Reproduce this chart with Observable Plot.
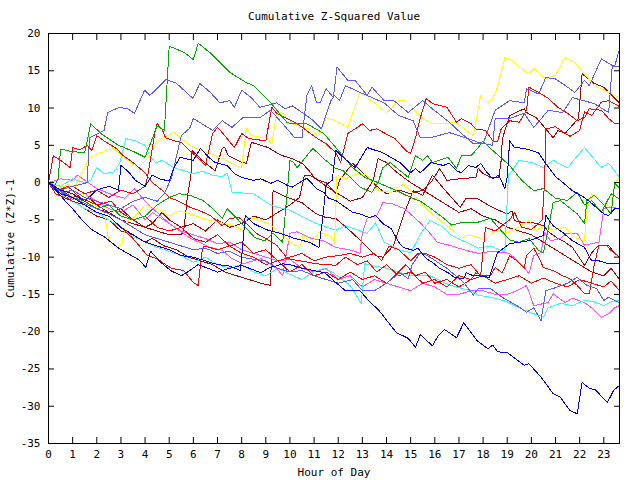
<!DOCTYPE html>
<html>
<head>
<meta charset="utf-8">
<script src="https://cdn.jsdelivr.net/npm/d3@7"></script>
<script src="https://cdn.jsdelivr.net/npm/@observablehq/plot@0.6"></script>
<style>
  html, body { margin: 0; padding: 0; background: #fff; }
</style>
</head>
<body>
<div id="chart"></div>
<script>
// ---- data: [hour, cumulative (Z*Z)-1] ----
const hours = d3.range(0, 24);
const yTicks = d3.range(-35, 21, 5);

const g1 = [[0,0],[0.2,-0.8],[0.4,0.5],[0.5,4.5],[0.9,4.2],[1.5,4],[1.75,7.9],[2.2,6.5],[2.9,5],[3.5,4.2],[4,3.4],[4.5,7.6],[4.8,7],[5,18.3],[5.6,17.5],[6,16.5],[6.2,18.7],[6.7,17.4],[7.5,14.8],[8.2,13.4],[8.5,13],[9.2,10.7],[9.9,8],[10.7,7.9],[11.4,6.6],[11.9,4.7],[12.6,2],[13.1,0.7],[13.5,0.2],[14,-0.5],[14.5,-1.2],[15,-2],[15.4,-2.5],[15.85,-3.5],[16.3,-4.6],[16.7,-5.7],[17.2,-5.3],[17.7,-5.4],[18.3,-4.8],[19.1,-7.7],[19.5,-8],[19.9,-7.5],[20.3,-9.1],[20.5,-9.4],[20.75,-5.4],[20.9,-2.7],[21.2,-2.4],[21.9,-4.2],[22.2,-5.5],[22.3,-2.4],[22.6,-1.7],[23,-3],[23.3,-4.2],[23.45,-0.1],[23.65,-0.7]];
const g2 = [[0,0],[0.4,-1],[1,-2],[1.5,-2.5],[2,-3.5],[2.5,-3],[3,-4.5],[3.5,-5],[4,-4.5],[4.5,-3],[5,-2],[5.4,-1.5],[5.85,-1.7],[6.4,-2.4],[6.8,-3.5],[7.2,-4.8],[7.4,-3.5],[8.1,-5.8],[8.55,-7.4],[8.96,-7.8],[9.3,-6.8],[9.7,-8],[9.8,-4.4],[9.9,-0.8],[10,3],[10.15,2.7],[10.3,2],[10.95,4.6],[11.4,3.2],[11.9,1.9],[12.2,1.6],[12.5,0.7],[12.9,-0.6],[13.4,-1.3],[13.65,0],[13.85,2],[14.15,2.7],[14.9,0.7],[15.2,3.6],[15.5,3],[15.7,3.6],[15.9,2.7],[16.55,3.4],[16.9,1.9],[17.1,3.6],[17.5,3.6],[17.8,4.7],[18,5.6],[18.3,4.6],[19.1,2.3],[19.6,0.3],[20.1,-1.1],[20.5,-0.8],[21,-2.1],[21.5,-2.4],[21.9,-1.3],[22.2,-3],[22.5,-2.4],[22.9,-4],[23.3,-1.5],[23.65,-2.2]];
const lb1 = [[0,0],[0.5,-1],[1,-0.5],[1.6,0],[1.7,6],[2.3,7],[2.45,9.4],[2.93,10.1],[3.28,9.9],[3.56,9.3],[3.98,12.4],[4.2,11.7],[4.86,13.8],[5.27,13.4],[5.98,11.3],[6.27,13.3],[6.7,12.1],[7.1,10.7],[7.5,11],[7.7,10.1],[8,12.4],[8.4,11.4],[8.75,10.1],[9,10.3],[9.45,10.7],[9.8,9.9],[10.1,10.3],[10.5,9.4],[10.9,8.5],[11.3,7.2],[11.7,11],[11.85,11.7],[12.05,11],[12.3,13],[12.9,12.1],[13.9,10.7],[14.5,9],[15.1,8.3],[15.4,6],[15.8,6],[16.6,6.7],[17,6.3],[17.3,6],[17.8,5.4],[18.4,5],[18.5,8.6],[19.1,8.6],[19.7,9.3],[20.1,7.4],[20.7,9.7],[21.3,9.4],[21.7,11.4],[22.6,10.6],[23.2,9.4],[23.35,15.6],[23.65,15.6]];
const lb2 = [[0,0],[0.5,-1.5],[1,-1],[1.5,-2],[2,-2.5],[2.5,-3],[3,-3.5],[3.5,-2.5],[4,-2],[4.5,-2.5],[4.8,-1.5],[5.1,0.7],[5.5,6.3],[5.85,7.3],[6,8.6],[6.8,7],[7.2,8.3],[7.6,7.4],[8.05,8.7],[8.75,8.7],[9.2,9.7],[9.7,7.9],[10.2,6],[10.5,6],[10.7,11.7],[10.9,13],[11.1,10.7],[11.25,10.7],[11.5,12.6],[11.8,11.4],[11.95,15.5],[12.4,13.7],[12.7,13.7],[13.2,11.7],[13.4,12.8],[13.9,11],[14.3,11],[14.9,9.4],[15.5,11],[15.9,9.9],[16.6,8.1],[17.1,6.6],[17.6,5.2],[18,5.2],[18.5,9.7],[19.1,11],[19.7,10.7],[19.8,12.6],[20.3,11.9],[20.6,14.1],[21,13.9],[21.5,12.8],[21.8,12.1],[22.2,13.7],[22.4,13],[22.9,16.6],[23.3,15.8],[23.45,15.6],[23.65,17.9]];
const lb3 = [[0,0],[0.5,-1.2],[1,-2],[1.5,-2.8],[2,-3.5],[2.5,-4.2],[3,-5],[3.5,-6],[4,-7],[4.5,-7.5],[5,-8],[5.5,-8.5],[6,-9],[6.5,-8.8],[7,-9.5],[7.5,-9.2],[8,-10],[8.5,-10.3],[9,-10.5],[9.5,-11.5],[10,-12],[10.5,-11.8],[11,-12.5],[11.5,-13],[12,-13.5],[12.6,-13],[13,-14.5],[13.5,-14.5],[14,-13.5],[14.55,-12.1],[14.9,-12.9],[15.05,-11.1],[15.4,-9.4],[15.7,-9.8],[16.5,-11.5],[17.2,-13.4],[17.6,-15.1],[17.8,-14.2],[18.3,-14.2],[18.8,-15.4],[19.4,-16.5],[19.8,-17.4],[20.1,-16.8],[20.4,-18.5],[20.6,-14.5],[21,-14.1],[21.5,-13.5],[21.9,-12.7],[22.3,-13.8],[22.7,-14.2],[23,-15.8],[23.2,-15.4],[23.65,-16.1]];
const y1 = [[0,0],[0.4,-0.8],[0.8,-0.3],[1.1,-0.5],[1.3,0.7],[1.7,3.4],[2.4,4.3],[2.7,4.6],[3.2,3.2],[3.7,1.9],[4.1,3.2],[4.5,5.6],[5.2,6.7],[5.5,5.9],[6,4.7],[6.7,3.9],[7.2,3.2],[8,2],[8.2,7.4],[8.4,6.3],[9,6],[9.25,5.2],[9.45,9.4],[9.7,9.3],[10.1,7.9],[10.8,7.2],[11.2,6.3],[11.5,8.7],[11.9,8.3],[12.4,7.4],[12.9,12.1],[13.5,10.7],[14,9.3],[14.5,11],[14.8,11],[15.5,8.6],[15.9,7.9],[16.4,7.9],[16.9,8.1],[17.3,7],[17.6,6.3],[17.9,11.7],[18.2,10.7],[18.4,11.3],[18.6,12.8],[18.9,16.8],[19.2,16.4],[19.5,15.5],[19.9,14.6],[20.1,15.3],[20.6,13.9],[21,14.4],[21.4,16.8],[21.8,16.1],[22.2,14.6],[22.6,13],[23,12.4],[23.65,11.4]];
const y2 = [[0,0],[0.6,-1],[1.1,-2],[1.5,-1.5],[1.9,-3],[2.3,-4],[2.5,-7.8],[2.85,-8.7],[3.05,-8.2],[3.2,-5.3],[3.6,-4.5],[4,-3],[4.5,-3.5],[5,-4.5],[5.4,-3.8],[5.85,-4.2],[6.7,-5.1],[7.3,-5.5],[7.7,-5.8],[8.05,-6.4],[8.25,-4.7],[8.6,-4.8],[9.1,-5.5],[9.6,-6.7],[10.1,-8.2],[10.4,-8.7],[10.55,-7.1],[10.9,-8.2],[11.2,-6.7],[11.65,-7.1],[11.85,-8],[11.95,1],[12.3,0.5],[12.8,1.2],[13.2,1],[13.5,-0.4],[13.7,-1.1],[14.2,-1.3],[14.5,-0.6],[14.7,-0.2],[15.1,-1.5],[15.5,-3],[15.9,-4.2],[16.4,-5.5],[16.9,-6.8],[17.1,-7.5],[17.3,-7.1],[17.7,-7.2],[18.1,-7.8],[18.5,-6.4],[19,-6.7],[19.5,-6],[19.9,-5.1],[20.2,-6.4],[20.55,-5.8],[20.9,-6.4],[21.4,-6],[21.8,-7.4],[22.2,-7.8],[22.3,-3.5],[22.5,-1.5],[22.7,-1.8],[23,-2.7],[23.3,-3.3],[23.45,-0.1],[23.65,0.7]];
const c1 = [[0,0],[0.5,-0.5],[1,0.5],[1.5,0],[1.75,0.3],[2,2],[2.3,1.2],[2.7,1.4],[2.95,2.6],[3.2,5.9],[3.6,5.6],[4,5],[4.2,3.6],[4.45,2.6],[4.7,3],[5.2,2],[6,1.2],[6.4,1.5],[6.8,1],[7.2,0.8],[7.4,1.3],[7.6,-1.3],[8.5,-1.5],[9.25,-3.1],[10,-3.7],[10.95,-5.3],[11.9,-6.4],[12.3,-5.8],[13.2,-6.8],[13.55,-5.4],[13.9,-8],[14.6,-9.1],[15,-9.4],[15.45,-6.7],[15.8,-5.1],[16.35,-6],[16.7,-7.1],[17.3,-8],[17.8,-8.8],[18.3,-8.5],[18.9,-9.3],[19.05,1],[19.2,1.6],[19.5,3],[20.1,2.6],[20.5,2],[20.9,3],[21.3,2.3],[21.5,2],[22.2,4.7],[22.9,2],[23.2,2.6],[23.65,0.7]];
const c2 = [[0,0],[0.3,-1],[0.7,-2],[1,-2.5],[1.5,-3.5],[2,-4],[2.5,-5],[3,-6],[3.4,-7.1],[3.9,-7.8],[4.5,-8.7],[4.9,-9.1],[5.5,-9.8],[6,-10.7],[6.5,-10],[7,-11],[7.5,-11.5],[8,-11],[8.5,-12],[9,-12.5],[9.5,-11.5],[10,-12.3],[10.5,-13],[11,-12],[11.4,-11.5],[11.8,-12.1],[12.5,-13.8],[12.95,-16.2],[13.1,-10.9],[13.5,-11.2],[13.9,-11.4],[14.5,-12],[15,-12.5],[15.8,-12.5],[16.65,-13.8],[17.5,-14.5],[17.8,-15.1],[18.5,-15.5],[19,-16],[19.5,-16.8],[20,-17.5],[20.5,-18],[20.7,-16.8],[21.2,-16.2],[21.7,-16.5],[22.2,-15.8],[22.6,-16],[23,-16.5],[23.3,-16],[23.65,-15.8]];
const m1 = [[0,0],[0.5,0.5],[1,0.3],[1.2,1],[2,-0.8],[2.7,-1.7],[3.15,-2.1],[3.55,-0.8],[4,-2.5],[4.5,-4],[5,-5.5],[5.85,-7.4],[6.7,-8.7],[7.2,-9.1],[7.6,-10.2],[8.05,-10.9],[8.8,-10.2],[9.45,-11.5],[9.7,-12.5],[10,-6.8],[10.3,-6.6],[10.8,-7.4],[11.4,-7.8],[11.9,-8.7],[12.6,-9.1],[12.9,-9.5],[13,-6.8],[13.2,-4.8],[13.6,-4.4],[13.85,-2.7],[14.2,-2.8],[14.75,-3.5],[15.4,-5.4],[15.8,-6.8],[16.1,-8],[16.6,-8.4],[17.3,-9.1],[17.8,-9.5],[18.4,-9.2],[19.1,-9.5],[19.7,-11.4],[19.9,-12.2],[20.1,-9.8],[20.4,-9.4],[20.55,-6.7],[20.8,-7.8],[21.2,-7.5],[21.45,-6.8],[21.9,-6.8],[22.2,-8.4],[22.8,-8],[23,-3.5],[23.3,-3.3],[23.65,-3.5]];
const m2 = [[0,0],[0.5,-1],[1,-2.3],[1.5,-1.5],[2,-2.5],[2.5,-3.5],[3,-4],[3.5,-3],[4,-5],[4.3,-4],[5,-5.5],[5.5,-6.5],[6,-7],[6.5,-7.5],[7,-8.2],[7.5,-8],[8,-9],[8.5,-9.5],[9,-10],[9.5,-10.5],[10,-10.3],[10.5,-11.5],[11,-12],[11.5,-11.5],[12,-13],[12.5,-12.5],[13,-14],[13.5,-13],[14,-13.5],[14.5,-14],[15,-14.5],[15.5,-13.5],[16,-14],[16.5,-15],[17,-15],[17.5,-14.5],[18,-14.5],[18.5,-15],[19,-15],[19.4,-14.5],[19.8,-13.8],[20.1,-16.5],[20.7,-16.1],[20.9,-14.9],[21.4,-16.1],[21.7,-15.5],[22.2,-16.1],[22.5,-16.8],[22.9,-18.1],[23.2,-17.6],[23.45,-16.8],[23.65,-16.5]];
const r1 = [[0,0],[0.2,3.6],[0.5,3],[0.9,2],[1,4.7],[1.3,4.4],[1.6,5],[1.8,4.3],[2,6.3],[2.3,5.6],[2.8,4.6],[3.1,3.6],[3.5,2.7],[4,1.3],[4.3,0],[4.7,-1],[5,-2],[5.4,-2.5],[5.85,-3.3],[6.2,-3.7],[6.7,-4.4],[7.2,-5.8],[7.5,-4.8],[7.9,-4.7],[8.3,-5.8],[8.6,-6.8],[9,-7.5],[9.45,-8.4],[9.9,-10.2],[10.4,-10.5],[10.8,-10.7],[11.1,-10.9],[11.9,-11.1],[12.3,-10],[12.8,-11],[13.2,-10.5],[13.6,-12],[14,-11],[14.5,-12.5],[15,-12],[15.5,-13.5],[16,-13],[16.5,-14],[17,-12.5],[17.5,-13],[17.7,-12.1],[18,-12.5],[18.3,-12.5],[18.5,-11.4],[18.8,-12.1],[19.1,-9.8],[19.4,-10.5],[19.7,-11.5],[19.8,-9.8],[20.1,-8.8],[20.3,-10],[20.5,-11.4],[20.9,-11.8],[21.3,-12.5],[21.6,-12.9],[21.9,-13.8],[22.2,-14.9],[22.4,-14.9],[22.6,-11.1],[22.8,-8.4],[23.1,-8.4],[23.3,-9.1],[23.65,-10]];
const r2 = [[0,0],[0.5,-1],[1,-0.5],[1.5,-1.5],[2,-1],[2.5,-2],[3,-1],[3.5,-1.5],[4,-0.5],[4.1,0.7],[4.4,6.6],[4.5,7.9],[4.7,7.2],[4.85,6],[5.2,5.6],[5.5,5.4],[5.85,4.3],[6.3,3],[6.5,2.3],[6.8,6.6],[7,7.4],[7.2,6.7],[7.7,4.7],[8,6.6],[8.3,5.9],[9,5.6],[9.25,10.1],[9.45,9.3],[10.3,7.9],[11.1,6],[11.5,5.2],[11.9,4],[12.1,2.7],[12.4,6.6],[12.8,7.4],[13,7.9],[13.3,7],[13.6,7.2],[14.35,5.9],[14.8,4.3],[15,3.9],[15.2,6],[15.4,8.7],[15.65,11.3],[15.9,10.6],[16.5,10.1],[16.9,8.1],[17.1,8.6],[17.5,7.9],[17.7,7.2],[18.1,7],[18.4,5.6],[18.6,5.5],[18.75,7.2],[19.1,8.3],[19.5,8.1],[19.8,9.7],[19.9,12.8],[20.3,12.1],[20.7,11.3],[21.1,10.1],[21.5,9.3],[21.9,8.3],[22.2,8.7],[22.4,9.9],[22.9,9.7],[23.2,8.6],[23.45,7.9],[23.65,8]];
const r3 = [[0,0],[0.4,-1],[0.8,-0.5],[1.3,-2],[2,-3],[2.6,-2.5],[3,-4],[3.5,-5],[4,-4.5],[4.5,-6],[5,-6.5],[5.5,-6],[6,-7.5],[6.5,-8],[7,-7],[7.5,-8.5],[8,-8],[8.5,-9.5],[9,-9],[9.5,-10.5],[10,-10],[10.5,-9.5],[11,-10.5],[11.5,-10],[12,-9.8],[12.5,-9.5],[13,-10],[13.5,-9.5],[13.8,-10.5],[14.1,-8.5],[14.5,-9],[15,-10.5],[15.3,-9.5],[15.6,-9.5],[16,-10],[16.5,-11],[17,-11.5],[17.5,-11],[17.9,-12.5],[18.1,-6],[18.5,-6.5],[19.1,-5],[19.3,-4],[19.6,-6],[20,-6.3],[20.3,-5.5],[20.45,-5],[20.55,0.3],[20.6,7.2],[21,7.5],[21.3,6.8],[21.6,6.2],[22,7],[22.2,9.5],[22.5,9],[22.9,10.8],[23.2,11],[23.65,10.2]];
const r4 = [[0,0],[0.3,-1.5],[1,-2.5],[1.5,-3],[2,-4],[2.5,-4.5],[3,-6],[3.5,-7.5],[4.1,-9.8],[4.5,-10.2],[4.8,-10.9],[5.1,-11.5],[5.6,-11.8],[6,-13.4],[6.2,-13.8],[6.35,-9.4],[6.45,-8.5],[7,-9],[7.5,-8.5],[8,-9.5],[8.5,-10],[9,-11],[9.5,-10.5],[10,-12],[10.5,-11],[11,-12.5],[11.5,-12],[12,-13],[12.5,-12],[13,-13],[13.5,-12.5],[14,-13.5],[14.5,-12],[14.8,-11],[15.2,-12.5],[15.6,-12],[16,-13.5],[16.5,-13],[17,-14],[17.5,-13],[18,-12.5],[18.5,-13.5],[19,-13],[19.5,-12.5],[20,-13.5],[20.5,-12.8],[21,-13.5],[21.5,-14],[22,-13],[22.5,-13.5],[23,-14],[23.3,-13.2],[23.65,-14.5]];
const b1 = [[0,0],[0.3,-1],[0.7,-2.5],[1,-3.5],[1.33,-4.8],[1.74,-6.2],[2.37,-7.4],[2.86,-8.7],[3.28,-9.5],[3.77,-10.4],[4.03,-11.4],[4.23,-9.2],[4.65,-10.7],[5.06,-11.8],[5.5,-12.5],[5.85,-11.8],[6.2,-11],[6.6,-11.5],[7,-12],[7.5,-11.5],[8,-11.1],[8.8,-12.1],[9.1,-11.5],[9.7,-10.9],[10,-11],[10.5,-11.5],[11,-11.8],[11.45,-12.1],[11.9,-13.4],[12.3,-14.5],[12.9,-14.5],[13.25,-15.8],[13.7,-17.2],[14.4,-20.1],[14.9,-20.9],[15.2,-22.1],[15.4,-20.4],[15.9,-21.9],[16.15,-20.5],[16.4,-19.7],[16.9,-20.8],[17.2,-18.8],[17.75,-21.2],[18.2,-22.3],[18.4,-21.8],[18.6,-22.7],[19,-22.8],[19.7,-24.5],[19.9,-24.3],[20.4,-26.1],[20.9,-28.3],[21.2,-28.8],[21.6,-30.6],[21.9,-31],[22.1,-26.8],[22.4,-27.6],[22.65,-27.8],[23.15,-29.5],[23.4,-27.9],[23.65,-27.2]];
const b2 = [[0,0],[0.5,-1],[1,-1.5],[1.5,-2.5],[2,-1],[2.5,-0.5],[2.9,-1],[3,2.3],[3.3,1.5],[3.6,0.3],[4,-0.5],[4.3,1],[4.6,0.5],[5,0.2],[5.2,2],[5.45,3.4],[5.7,3.2],[6,3],[6.3,4.6],[6.6,3.5],[6.9,2.7],[7.4,2.3],[7.7,1.2],[8,0.7],[8.5,0.3],[8.8,0.5],[9.2,-0.1],[9.5,0.3],[9.9,-0.4],[10.1,-0.6],[10.4,0],[10.7,0.6],[11.1,-0.8],[11.4,-1.3],[11.6,-2.1],[11.9,-2.4],[12.2,-3.1],[12.6,-4],[12.9,-4.2],[13.3,-4.7],[13.55,-4.4],[13.85,-5.5],[14.2,-6.2],[14.5,-8],[14.7,-8.7],[15.1,-9.1],[15.3,-8.8],[15.65,-10.2],[15.9,-10.7],[16.2,-11.5],[16.55,-12.1],[16.8,-12.7],[17.2,-12.9],[17.3,-12.1],[17.6,-12.5],[17.8,-12.5],[18.25,-12.7],[18.6,-9.4],[19.1,-8.2],[19.9,-7.8],[20.5,-7.1],[20.6,-4.4],[20.9,-5.8],[21.3,-6.7],[21.7,-7.8],[22.2,-8.7],[22.5,-10.5],[22.8,-10.5],[23.2,-10.9],[23.65,-10.9]];
const b3 = [[0,0],[0.5,-1.5],[1,-2],[1.5,-3],[2,-4],[2.5,-4.5],[3,-6],[3.5,-7],[4,-8],[4.5,-8.5],[5,-9],[5.5,-9.8],[6,-10],[6.5,-10.5],[7,-11],[7.5,-11.2],[7.95,-11.8],[8.15,-4.4],[8.5,-5.5],[9,-6.3],[9.6,-6.8],[10.2,-7.5],[10.8,-8],[11.2,-8.7],[11.35,-5],[11.5,-0.3],[11.75,0.3],[11.9,4.3],[12.2,3.4],[12.7,2],[13.2,4.7],[13.85,4],[14.55,2.7],[15,1.3],[15.2,1.9],[15.4,1.3],[15.85,2.7],[16.35,2.3],[16.6,2.6],[16.9,1.6],[17.1,1.3],[17.4,2.3],[17.7,2],[17.9,2.6],[18.1,1.6],[18.4,0.5],[18.65,1],[18.9,-0.8],[19,0.7],[19.1,5.6],[19.3,4.7],[19.7,4.6],[20.3,4],[20.5,3],[21,0.8],[21.2,0.3],[21.7,-1.1],[22.2,-2],[22.5,-2.8],[23,-4.2],[23.2,-4.4],[23.45,-3.5],[23.65,-3.5]];
const dr1 = [[0,0],[0.4,-1],[1,-2],[1.5,-1.5],[2,-3],[2.5,-4],[3,-3.5],[3.5,-5],[4,-6],[4.3,-5.5],[4.7,-4],[5,-5],[5.5,-6],[6,-5.5],[6.5,-6.5],[7,-5],[7.5,-6],[8,-5.5],[8.5,-4.5],[9,-5],[9.5,-4],[10,-3],[10.4,-2],[10.6,1],[10.8,1],[11.2,0.3],[11.5,0],[11.9,-1.5],[12.05,0.3],[12.6,2.6],[12.8,2],[13.2,0.7],[13.6,-0.5],[14,-1.5],[14.5,-1],[15,-1.5],[15.5,-1],[15.9,0.3],[16.2,1.9],[16.5,0.3],[17,0.5],[17.7,0.7],[17.8,1.9],[18,1.2],[18.3,0.7],[18.65,0.7],[18.75,3],[18.8,5.9],[19.1,9],[19.7,9.9],[19.8,9.4],[20.2,8.7],[20.6,7.2],[20.9,6],[21.1,7],[21.4,6.6],[21.7,7.7],[21.95,8.6],[22.1,14.6],[22.6,13.3],[23,12.8],[23.2,12.1],[23.65,10.7]];
const dr2 = [[0,0],[0.5,-1],[1,-2],[1.5,-2.5],[2,-3.5],[2.5,-4],[3,-5],[3.5,-5.5],[4,-6],[4.5,-6.5],[5,-7],[5.5,-7],[5.6,-6.5],[5.75,-2],[5.9,1],[5.95,4.3],[6.3,3.2],[6.5,2.6],[6.9,1.6],[7.2,4.6],[7.3,4.7],[7.45,3.6],[7.7,3.2],[8,2.7],[8.2,2.6],[8.4,5.4],[8.6,5.2],[9.1,4.7],[9.45,4],[9.7,3.6],[10.1,3.2],[10.5,2.6],[10.8,1.6],[11,0.7],[11.5,-0.5],[12,-1.5],[12.5,-2.5],[13,-2],[13.45,0.3],[13.65,3.2],[14,2.7],[14.35,1.6],[14.7,0.7],[15,0],[15.5,-1],[16,-2],[16.5,-3],[17,-4],[17.5,-3.5],[18,-4.5],[18.5,-5],[19,-6],[19.5,-6.5],[20,-7],[20.5,-8],[21,-9],[21.5,-10],[22,-11],[22.5,-12],[23,-12.5],[23.3,-11.5],[23.65,-13]];
const dr3 = [[0,0],[0.5,-1.5],[1,-2.5],[1.5,-3.5],[2,-4.5],[2.5,-5],[3,-6.5],[3.5,-7],[4,-8],[4.3,-7.5],[4.8,-8.5],[5.3,-9],[5.8,-10],[6.3,-10.5],[6.8,-11],[7.3,-12],[7.8,-12.5],[8.3,-13],[8.8,-13.5],[9.2,-13.8],[9.3,-1.1],[9.9,-2],[10.5,-2.7],[10.8,-3.5],[11.1,-4.2],[11.5,-4.7],[11.9,-4.8],[12.5,-6.5],[13,-8],[13.55,-9.8],[13.85,-10],[14.3,-8.4],[14.7,-4.4],[15.1,-1.1],[15.5,-1.7],[15.9,1],[16.5,-1.3],[17.05,-3.3],[17.3,-2.1],[17.8,-2.2],[18.1,-2.8],[18.5,-3.5],[19,-4.2],[19.2,-3.8],[19.3,-5.1],[19.7,-5.4],[20.1,-5.4],[20.5,-5.8],[20.75,-6.7],[21.1,-7.5],[21.4,-8],[21.7,-8.7],[22.2,-11.1],[22.5,-9.4],[22.8,-8.4],[23.2,-8.4],[23.45,-9.5],[23.65,-10]];

// series names and their line colours (kept apart from the values)
const seriesNames = ["dr3","dr2","dr1","m2","m1","c2","c1","y2","y1","r4","r3","r1","r2","g2","g1","lb3","lb1","lb2","b3","b2","b1"];
const seriesValues = {g1,g2,lb1,lb2,lb3,y1,y2,c1,c2,m1,m2,r1,r2,r3,r4,b1,b2,b3,dr1,dr2,dr3};
const palette = {
  g1:"#00a800", g2:"#00a800",
  lb1:"#5a5aff", lb2:"#5a5aff", lb3:"#5a5aff",
  y1:"#ffff00", y2:"#ffff00",
  c1:"#3cf5f5", c2:"#3cf5f5",
  m1:"#ff50ff", m2:"#ff50ff",
  r1:"#ff0000", r2:"#ff0000", r3:"#ff0000", r4:"#ff0000",
  b1:"#0000ee", b2:"#0000ee", b3:"#0000ee",
  dr1:"#b00000", dr2:"#b00000", dr3:"#b00000"
};

const rows = seriesNames.flatMap(name =>
  seriesValues[name].map(([h, v]) => ({series: name, h, v}))
);

const font = "'DejaVu Sans Mono', 'Liberation Mono', monospace";
const blank = () => "";

const chart = Plot.plot({
  width: 640,
  height: 480,
  marginLeft: 48,
  marginRight: 21,
  marginTop: 33,
  marginBottom: 37,
  style: {fontFamily: font, fontSize: "11px", background: "#fff", color: "#000"},
  x: {domain: [0, 23.65]},
  y: {domain: [-35, 20]},
  color: {domain: seriesNames, range: seriesNames.map(n => palette[n])},
  marks: [
    Plot.line(rows, {x: "h", y: "v", z: "series", stroke: "series", strokeWidth: 1, shapeRendering: "crispEdges"}),
    Plot.frame({stroke: "#000", strokeWidth: 1, shapeRendering: "crispEdges"}),
    // inward ticks on all four sides
    Plot.axisX(hours, {anchor: "bottom", tickSize: -6, tickFormat: blank, label: null, strokeWidth: 1}),
    Plot.axisX(hours, {anchor: "top", tickSize: -6, tickFormat: blank, label: null, strokeWidth: 1}),
    Plot.axisY(yTicks, {anchor: "left", tickSize: -6, tickFormat: blank, label: null, strokeWidth: 1}),
    Plot.axisY(yTicks, {anchor: "right", tickSize: -6, tickFormat: blank, label: null, strokeWidth: 1}),
    // tick labels and axis titles
    Plot.axisX(hours, {anchor: "bottom", tickSize: 0, tickPadding: 7, tickFormat: d => String(d),
      label: "Hour of Day", labelAnchor: "center", labelOffset: 32, labelArrow: "none", fill: "#000"}),
    Plot.axisY(yTicks, {anchor: "left", tickSize: 0, tickPadding: 8, tickFormat: d => String(d),
      label: "Cumulative (Z*Z)-1", labelAnchor: "center", labelOffset: 42, labelArrow: "none", fill: "#000"}),
    Plot.text(["Cumulative Z-Squared Value"], {frameAnchor: "top", dy: -21, text: d => d, fill: "#000", fontSize: 11})
  ]
});

document.getElementById("chart").appendChild(chart);
</script>
</body>
</html>
